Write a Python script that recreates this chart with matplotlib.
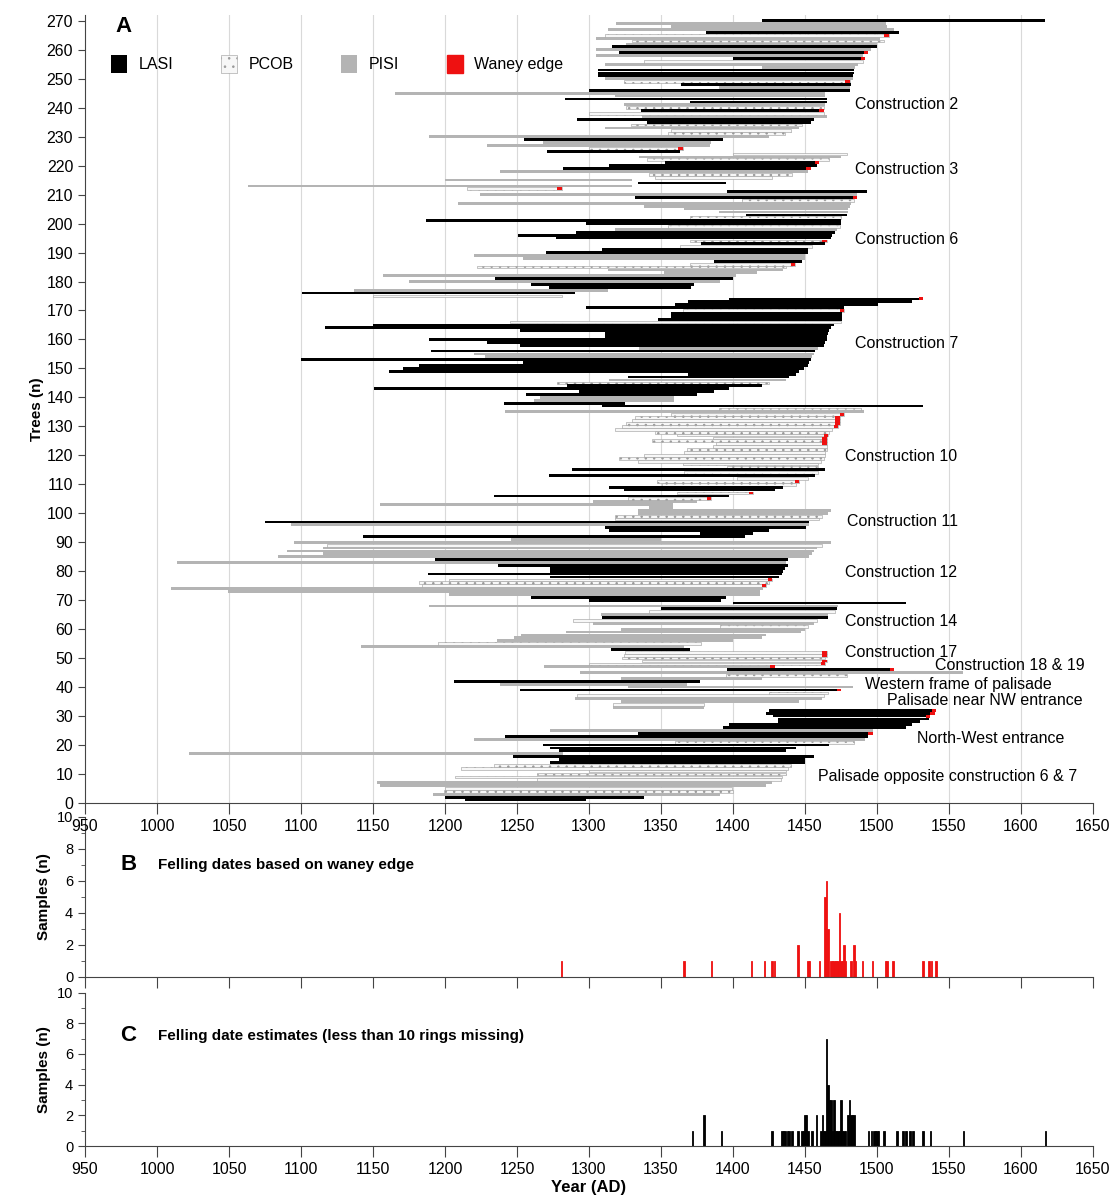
import matplotlib
matplotlib.use("Agg")
import matplotlib.pyplot as plt
import numpy as np
from matplotlib.patches import Patch

plt.rcParams["font.family"] = ["Liberation Sans", "DejaVu Sans"]
plt.rcParams["hatch.linewidth"] = 0.6
NARROW = ["Liberation Sans Narrow", "Liberation Sans", "DejaVu Sans"]

# ---- panel A: one row per tree (tree 1 .. 270) ----
# L = LASI, C = PCOB, S = PISI
SPECIES = (
    "LLSCCSSCCC" "CCCLLLSLLL" "CSLLSLLLLL" "LLSCSSCCLS" "SLSCSLSCCC"
    "CCLSCSSSSS" "CSCLSCLSLL" "LSSSCCCLLL" "LLSLSSSSCS" "SLLLLSLCCS"
    "SSSSCLCLLC" "CCLCLCCCCC" "CCCCCCCCCC" "CCCCSCLLSS" "LLLLCSLLLL"
    "LLLSSLSLLL" "LLLLLCLLLC" "LLLLCLSLLS" "LSSSCCLSSL" "LCLCLLLSCL"
    "LCLSSSSCLS" "LCSLSCCSLL" "LCSCLCSSLS" "CCSCLLSCLC" "SLLSSLSLCS"
    "LLLSSCLSLS" "LSCSCLSSSL"
)

START = [
    1214, 1200, 1192, 1199, 1200, 1155, 1153, 1264, 1207, 1264,
    1300, 1211, 1234, 1273, 1279, 1247, 1022, 1279, 1273, 1268,
    1360, 1220, 1242, 1334, 1273, 1393, 1397, 1431, 1431, 1428,
    1423, 1425, 1317, 1317, 1322, 1290, 1292, 1425, 1252, 1327,
    1238, 1206, 1322, 1395, 1294, 1396, 1269, 1300, 1337, 1323,
    1324, 1325, 1315, 1142, 1195, 1236, 1248, 1253, 1284, 1322,
    1391, 1303, 1289, 1309, 1308, 1342, 1350, 1189, 1400, 1300,
    1260, 1203, 1049, 1010, 1184, 1182, 1203, 1273, 1188, 1273,
    1273, 1237, 1014, 1193, 1084, 1115, 1090, 1115, 1118, 1095,
    1246, 1143, 1377, 1314, 1311, 1093, 1075, 1318, 1318, 1334,
    1334, 1342, 1155, 1303, 1327, 1234, 1361, 1324, 1314, 1351,
    1347, 1403, 1272, 1366, 1288, 1396, 1365, 1334, 1321, 1338,
    1366, 1368, 1386, 1388, 1344, 1386, 1361, 1346, 1318, 1323,
    1326, 1330, 1332, 1357, 1242, 1390, 1309, 1241, 1262, 1266,
    1256, 1293, 1151, 1285, 1278, 1314, 1327, 1369, 1161, 1171,
    1182, 1254, 1100, 1228, 1220, 1190, 1335, 1252, 1229, 1189,
    1311, 1311, 1252, 1117, 1150, 1245, 1348, 1357, 1357, 1365,
    1298, 1360, 1369, 1397, 1150, 1101, 1137, 1272, 1260, 1175,
    1235, 1157, 1352, 1313, 1222, 1370, 1387, 1254, 1220, 1270,
    1309, 1363, 1378, 1370, 1277, 1251, 1291, 1318, 1355, 1298,
    1187, 1370, 1409, 1390, 1366, 1338, 1209, 1406, 1332, 1224,
    1396, 1215, 1063, 1334, 1200, 1346, 1342, 1238, 1282, 1314,
    1353, 1340, 1335, 1400, 1271, 1300, 1229, 1268, 1255, 1189,
    1355, 1357, 1311, 1329, 1340, 1292, 1337, 1300, 1336, 1326,
    1324, 1370, 1283, 1318, 1165, 1300, 1390, 1364, 1324, 1311,
    1306, 1306, 1306, 1420, 1311, 1338, 1400, 1305, 1321, 1305,
    1316, 1326, 1330, 1305, 1311, 1381, 1313, 1357, 1319, 1420,
]

END = [
    1298, 1338, 1391, 1400, 1399, 1423, 1427, 1433, 1434, 1437,
    1437, 1438, 1440, 1450, 1450, 1456, 1282, 1437, 1444, 1467,
    1484, 1492, 1494, 1497, 1497, 1520, 1524, 1530, 1536, 1537,
    1540, 1541, 1380, 1380, 1446, 1462, 1463, 1466, 1475, 1483,
    1368, 1377, 1420, 1479, 1560, 1512, 1429, 1464, 1465, 1464,
    1465, 1465, 1370, 1366, 1378, 1400, 1420, 1423, 1447, 1450,
    1452, 1456, 1458, 1466, 1466, 1471, 1472, 1473, 1520, 1392,
    1395, 1419, 1419, 1421, 1423, 1425, 1427, 1432, 1434, 1435,
    1436, 1438, 1437, 1438, 1453, 1455, 1456, 1458, 1462, 1468,
    1350, 1408, 1414, 1425, 1451, 1453, 1453, 1460, 1462, 1466,
    1468, 1358, 1358, 1375, 1385, 1397, 1414, 1429, 1435, 1444,
    1446, 1452, 1457, 1459, 1464, 1459, 1459, 1461, 1463, 1464,
    1464, 1465, 1465, 1465, 1465, 1465, 1466, 1467, 1469, 1473,
    1474, 1474, 1474, 1477, 1491, 1489, 1532, 1325, 1359, 1359,
    1375, 1387, 1397, 1420, 1425, 1437, 1439, 1444, 1446, 1449,
    1452, 1453, 1454, 1455, 1456, 1457, 1459, 1463, 1464, 1465,
    1465, 1466, 1467, 1468, 1470, 1475, 1476, 1476, 1476, 1477,
    1477, 1501, 1524, 1532, 1281, 1290, 1313, 1371, 1373, 1391,
    1400, 1402, 1417, 1435, 1437, 1443, 1448, 1450, 1450, 1452,
    1452, 1455, 1464, 1465, 1468, 1469, 1471, 1472, 1474, 1475,
    1475, 1475, 1479, 1480, 1480, 1481, 1482, 1484, 1486, 1486,
    1493, 1281, 1330, 1395, 1330, 1427, 1441, 1452, 1454, 1458,
    1460, 1467, 1475, 1479, 1363, 1365, 1384, 1385, 1393, 1425,
    1436, 1440, 1446, 1448, 1454, 1456, 1465, 1463, 1463, 1463,
    1464, 1465, 1465, 1464, 1464, 1481, 1481, 1482, 1481, 1483,
    1483, 1484, 1484, 1485, 1487, 1490, 1492, 1490, 1494, 1496,
    1500, 1500, 1505, 1502, 1508, 1515, 1512, 1507, 1506, 1617,
]

WANEY_TREES = [24, 30, 31, 32, 39, 46, 47, 48, 49, 51, 52, 75, 77, 105, 107,
               111, 124, 125, 126, 127, 130, 131, 132, 133, 134, 170, 174,
               186, 194, 209, 212, 219, 221, 226, 239, 249, 257, 259, 265]

GROUP_LABELS = [
    ("Construction 2", 1485, 241),
    ("Construction 3", 1485, 218.5),
    ("Construction 6", 1485, 194.5),
    ("Construction 7", 1485, 158.5),
    ("Construction 10", 1478, 119.5),
    ("Construction 11", 1479, 97),
    ("Construction 12", 1478, 79.5),
    ("Construction 14", 1478, 62.5),
    ("Construction 17", 1478, 52),
    ("Construction 18 & 19", 1540, 47.3),
    ("Western frame of palisade", 1492, 41),
    ("Palisade near NW entrance", 1507, 35.5),
    ("North-West entrance", 1528, 22.4),
    ("Palisade opposite construction 6 & 7", 1459, 9.3),
]

# ---- panel B: felling dates from waney edge ----
WANEY_YEARS = [1281, 1366, 1385, 1413, 1422, 1427, 1429, 1445, 1452, 1453,
               1460, 1464, 1465, 1466, 1468, 1469, 1470, 1471, 1472, 1473,
               1474, 1475, 1476, 1477, 1478, 1482, 1484, 1485, 1490, 1497,
               1506, 1507, 1511, 1532, 1536, 1538, 1541]
WANEY_COUNTS = [1, 1, 1, 1, 1, 1, 1, 2, 1, 1,
                1, 5, 6, 3, 1, 1, 1, 1, 1, 1,
                4, 1, 1, 2, 1, 1, 2, 1, 1, 1,
                1, 1, 1, 1, 1, 1, 1]

# ---- panel C: felling date estimates (<10 rings missing) ----
EST_YEARS = [1372, 1380, 1392, 1427, 1434, 1435, 1436, 1438, 1439, 1441,
             1445, 1448, 1449, 1450, 1451, 1452, 1455, 1458, 1461, 1462,
             1463, 1464, 1465, 1466, 1467, 1468, 1469, 1470, 1471, 1472,
             1473, 1474, 1475, 1476, 1477, 1478, 1480, 1481, 1482, 1483,
             1484, 1494, 1496, 1498, 1499, 1500, 1501, 1505, 1514, 1518,
             1520, 1523, 1525, 1532, 1537, 1560, 1617]
EST_COUNTS = [1, 2, 1, 1, 1, 1, 1, 1, 1, 1,
              1, 1, 1, 2, 2, 1, 1, 2, 1, 2,
              1, 1, 7, 4, 3, 3, 1, 3, 1, 1,
              1, 1, 3, 1, 1, 1, 2, 3, 2, 2,
              2, 1, 1, 1, 1, 1, 1, 1, 1, 1,
              1, 1, 1, 1, 1, 1, 1]

RED = "#ee1111"
STYLE = {
    "L": dict(color="black", edgecolor="none", linewidth=0),
    "S": dict(color="#b4b4b4", edgecolor="none", linewidth=0),
    "C": dict(facecolor="#f7f7f7", edgecolor="#9a9a9a", linewidth=0.4, hatch=".."),
}
LEGEND_NAMES = {"L": "LASI", "C": "PCOB", "S": "PISI"}
XTICKS = np.arange(950, 1651, 50)

fig = plt.figure(figsize=(11.17, 11.99), dpi=100)
ax_a = fig.add_axes([0.0761, 0.3303, 0.9024, 0.6572])
ax_b = fig.add_axes([0.0761, 0.1852, 0.9024, 0.1335])
ax_c = fig.add_axes([0.0761, 0.0442, 0.9024, 0.1280])
for ax in (ax_b, ax_c):
    ax.patch.set_visible(False)

trees = np.arange(1, len(START) + 1)
starts = np.array(START)
ends = np.array(END)
codes = np.array(list(SPECIES))

for code in ["S", "C", "L"]:
    m = codes == code
    ax_a.barh(trees[m], ends[m] - starts[m], left=starts[m], height=0.95,
              zorder=3, **STYLE[code])

w = np.array(WANEY_TREES)
ax_a.barh(w, 3, left=ends[w - 1] - 3, height=1.0, color=RED,
          linewidth=0, zorder=4)

for txt, x, y in GROUP_LABELS:
    ax_a.text(x, y, txt, fontsize=11.5, ha="left", va="center", zorder=5)

for x in XTICKS[1:-1]:
    ax_a.axvline(x, color="#d9d9d9", linewidth=0.8, zorder=1)

handles = [Patch(label=LEGEND_NAMES[c], **STYLE[c]) for c in ["L", "C", "S"]]
handles.append(Patch(color=RED, label="Waney edge"))
ax_a.legend(handles=handles, loc="center left", bbox_to_anchor=(0.012, 0.938),
            ncol=4, frameon=False, fontsize=11.5, handlelength=1.0,
            handleheight=1.4, columnspacing=3.0, handletextpad=0.7)

ax_a.set_xlim(950, 1650)
ax_a.set_ylim(0, 272)
ax_a.set_yticks(np.arange(0, 271, 10))
ax_a.set_xticks(XTICKS)
ax_a.set_ylabel("Trees (n)", fontsize=11, fontweight="bold", labelpad=2)
ax_a.text(0.03, 0.985, "A", transform=ax_a.transAxes, fontsize=16,
          fontweight="bold", va="center")

ax_b.bar(WANEY_YEARS, WANEY_COUNTS, width=1.0, color=RED, edgecolor=RED,
         linewidth=0.6)
ax_b.set_xticks(XTICKS)
ax_b.set_xticklabels([])
ax_b.text(0.035, 0.70, "B", transform=ax_b.transAxes, fontsize=16,
          fontweight="bold", va="center")
ax_b.text(0.072, 0.70, "Felling dates based on waney edge",
          transform=ax_b.transAxes, fontsize=11, fontweight="bold",
          va="center", family=NARROW)

ax_c.bar(EST_YEARS, EST_COUNTS, width=1.0, color="black", edgecolor="black",
         linewidth=0.6)
ax_c.set_xticks(XTICKS)
ax_c.set_xlabel("Year (AD)", fontsize=12, fontweight="bold", family=NARROW,
                labelpad=2)
ax_c.text(0.035, 0.72, "C", transform=ax_c.transAxes, fontsize=16,
          fontweight="bold", va="center")
ax_c.text(0.072, 0.72, "Felling date estimates (less than 10 rings missing)",
          transform=ax_c.transAxes, fontsize=11, fontweight="bold",
          va="center", family=NARROW)

for ax in (ax_b, ax_c):
    ax.set_ylim(0, 10)
    ax.set_yticks(np.arange(0, 11, 2))
    ax.set_yticks(np.arange(1, 10, 2), minor=True)
    ax.set_ylabel("Samples (n)", fontsize=11, fontweight="bold", labelpad=4)

for ax in (ax_a, ax_b, ax_c):
    ax.set_xlim(950, 1650)
    for s in ("top", "right"):
        ax.spines[s].set_visible(False)
    for s in ("left", "bottom"):
        ax.spines[s].set_color("#444444")
    ax.tick_params(axis="both", which="major", direction="out", length=5,
                   color="#444444", labelsize=11.5)
    ax.tick_params(axis="y", which="minor", direction="out", length=3,
                   color="#444444")
    ax.tick_params(axis="x", length=8)
    for lab in ax.get_xticklabels() + ax.get_yticklabels():
        lab.set_family(NARROW)

for ax in (ax_b, ax_c):
    ax.tick_params(axis="y", which="major", labelsize=10.5)

# keep panel A's year labels visible above panel B
ax_a.set_zorder(3)
ax_a.patch.set_visible(False)

fig.savefig("out.png", dpi=100)
